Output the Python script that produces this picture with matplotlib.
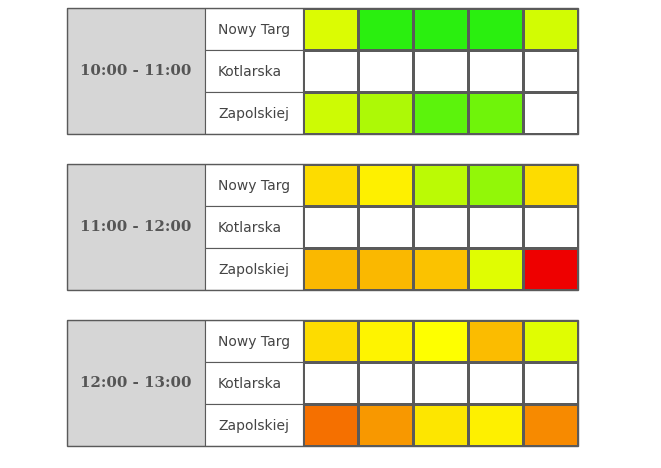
import numpy as np
import matplotlib.pyplot as plt
from matplotlib.colors import LinearSegmentedColormap
from matplotlib.patches import Rectangle

# time slots and stations
slots = ["10:00 - 11:00", "11:00 - 12:00", "12:00 - 13:00"]
stations = ["Nowy Targ", "Kotlarska", "Zapolskiej"]

# traffic score per cell (0 = red, 0.5 = yellow, 1 = green), nan = no data
nan = np.nan
scores_10 = [[0.58, 0.97, 0.97, 0.97, 0.60],
             [nan, nan, nan, nan, nan],
             [0.61, 0.68, 0.86, 0.82, nan]]
scores_11 = [[0.43, 0.47, 0.65, 0.74, 0.43],
             [nan, nan, nan, nan, nan],
             [0.36, 0.36, 0.38, 0.57, 0.0]]
scores_12 = [[0.43, 0.48, 0.50, 0.37, 0.57],
             [nan, nan, nan, nan, nan],
             [0.22, 0.30, 0.45, 0.47, 0.27]]
all_scores = [scores_10, scores_11, scores_12]

cmap = LinearSegmentedColormap.from_list(
    "traffic", [(0.0, "#ee0000"), (0.5, "#ffff00"), (1.0, "#1eee10")])
cmap.set_bad("white")

W, H = 661, 468
fig = plt.figure(figsize=(W / 100, H / 100), dpi=100)
fig.patch.set_facecolor("white")

line_col = "#5a5a5a"
time_w, station_w, cell_w = 138, 98, 55
table_left, table_h = 67, 126
table_tops = [8, 164, 320]

for slot, scores, top in zip(slots, all_scores, table_tops):
    n_cols = len(scores[0])
    total_w = time_w + station_w + n_cols * cell_w
    ax = fig.add_axes([table_left / W, 1 - (top + table_h) / H,
                       total_w / W, table_h / H])
    n_rows = len(stations)
    ax.set_xlim(0, total_w)
    ax.set_ylim(n_rows, 0)
    ax.axis("off")

    # coloured cells
    x_edges = time_w + station_w + np.arange(n_cols + 1) * cell_w
    y_edges = np.arange(n_rows + 1)
    data = np.ma.masked_invalid(np.array(scores, dtype=float))
    ax.pcolormesh(x_edges, y_edges, data, cmap=cmap, vmin=0, vmax=1,
                  edgecolors=line_col, linewidth=0.8)

    # time cell
    ax.add_patch(Rectangle((0, 0), time_w, n_rows, facecolor="#d6d6d6",
                           edgecolor=line_col, linewidth=0.8))
    ax.text(time_w / 2, n_rows / 2, slot, ha="center", va="center",
            family="DejaVu Serif", weight="bold", fontsize=10.8,
            color="#555555")

    # station cells
    for i, name in enumerate(stations):
        ax.add_patch(Rectangle((time_w, i), station_w, 1, facecolor="white",
                               edgecolor=line_col, linewidth=0.8))
        ax.text(time_w + 13, i + 0.52, name, ha="left", va="center",
                family="DejaVu Sans", fontsize=10, color="#444444")

    ax.add_patch(Rectangle((0, 0), total_w, n_rows, fill=False,
                           edgecolor=line_col, linewidth=1.0, clip_on=False))

fig.savefig("out.png", dpi=100, facecolor="white")
